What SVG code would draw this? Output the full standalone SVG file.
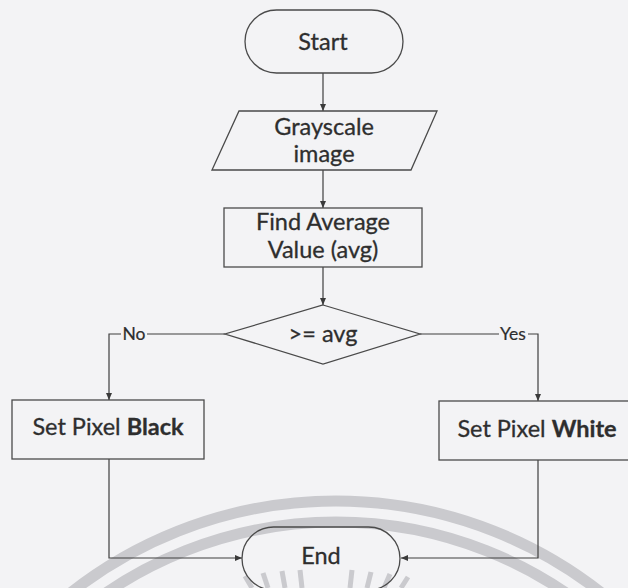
<svg xmlns="http://www.w3.org/2000/svg" width="628" height="588" viewBox="0 0 628 588">
<defs>
<marker id="arr" markerWidth="8" markerHeight="8" refX="7" refY="4" orient="auto" markerUnits="userSpaceOnUse">
<path d="M0,1 L7,4 L0,7 Z" fill="#3a3a3a"/>
</marker>
<style>
.shape{fill:none;stroke:#4a4a4a;stroke-width:1.3}
.conn{fill:none;stroke:#3f3f3f;stroke-width:1.2}
.t{font-family:Lato,"Liberation Sans",sans-serif;font-size:23.5px;fill:#2e2e2e;stroke:#2e2e2e;stroke-width:0.3;text-anchor:middle}
.lbl{font-family:Lato,"Liberation Sans",sans-serif;font-size:17.5px;fill:#2e2e2e;stroke:#2e2e2e;stroke-width:0.2;text-anchor:middle}
.wm{fill:none;stroke:#cacace;stroke-width:11}
.ray{stroke:#cacace;stroke-width:5}
</style>
</defs>
<rect width="628" height="588" fill="#f3f3f5"/>
<g id="watermark">
<circle class="wm" cx="336" cy="930" r="429"/>
<circle class="wm" cx="336" cy="930" r="408"/>
<g class="ray">
<line x1="245" y1="576" x2="252" y2="588"/>
<line x1="263" y1="573" x2="268" y2="588"/>
<line x1="282" y1="571" x2="285" y2="588"/>
<line x1="300" y1="570" x2="302" y2="588"/>
<line x1="352" y1="570" x2="350" y2="588"/>
<line x1="371" y1="572" x2="367" y2="588"/>
<line x1="390" y1="574" x2="384" y2="588"/>
<line x1="408" y1="577" x2="401" y2="588"/>
</g>
</g>
<g id="connectors">
<line class="conn" x1="323" y1="73" x2="323" y2="111" marker-end="url(#arr)"/>
<line class="conn" x1="323" y1="170" x2="323" y2="208" marker-end="url(#arr)"/>
<line class="conn" x1="323" y1="267" x2="323" y2="305" marker-end="url(#arr)"/>
<polyline class="conn" points="147,334 225,334"/>
<polyline class="conn" points="121,334 109,334 109,400" marker-end="url(#arr)"/>
<polyline class="conn" points="420,334 499,334"/>
<polyline class="conn" points="528,334 538,334 538,401" marker-end="url(#arr)"/>
<polyline class="conn" points="109,459 109,558 242,558" marker-end="url(#arr)"/>
<polyline class="conn" points="538,460 538,558 401,558" marker-end="url(#arr)"/>
<text class="lbl" x="134" y="340">No</text>
<text class="lbl" x="513" y="340">Yes</text>
</g>
<g id="start">
<rect class="shape" x="245" y="10" width="158" height="63" rx="31.5"/>
<text class="t" x="323" y="50">Start</text>
</g>
<g id="input">
<polygon class="shape" points="239,111 437,111 411,170 212,170"/>
<text class="t" x="324" y="135">Grayscale</text>
<text class="t" x="324" y="162">image</text>
</g>
<g id="average">
<rect class="shape" x="224" y="208" width="198" height="59"/>
<text class="t" x="323" y="230">Find Average</text>
<text class="t" x="323" y="258">Value (avg)</text>
</g>
<g id="decision">
<polygon class="shape" points="323,305 420,334 323,364 225,334"/>
<text class="t" x="323" y="342">&gt;= avg</text>
</g>
<g id="black">
<rect class="shape" x="12" y="400" width="192" height="59"/>
<text class="t" x="108" y="435">Set Pixel <tspan font-weight="bold">Black</tspan></text>
</g>
<g id="white">
<rect class="shape" x="439" y="401" width="200" height="59"/>
<text class="t" x="537" y="437">Set Pixel <tspan font-weight="bold">White</tspan></text>
</g>
<g id="end">
<rect class="shape" x="242" y="527" width="158" height="63" rx="31.5"/>
<text class="t" x="321" y="564">End</text>
</g>
</svg>
